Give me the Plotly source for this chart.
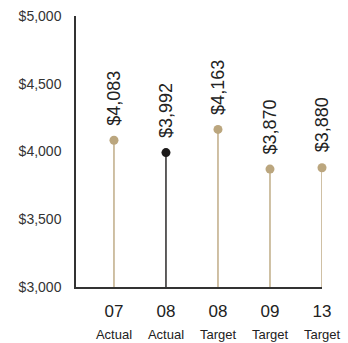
import plotly.graph_objects as go

# Fuel cost per unit, actuals vs targets
years = ["07", "08", "08", "09", "13"]
kinds = ["Actual", "Actual", "Target", "Target", "Target"]
values = [4083, 3992, 4163, 3870, 3880]
highlight = [False, True, False, False, False]

y_ticks = [3000, 3500, 4000, 4500, 5000]
y_labels = ["$3,000", "$3,500", "$4,000", "$4,500", "$5,000"]

TAN = "#bba67e"
DARK = "#1c1a1a"
BASE = 3000

positions = list(range(len(values)))
tick_text = [f"{y}<br><span style='font-size:13px'>{k}</span>" for y, k in zip(years, kinds)]

fig = go.Figure()

for flag, color in [(False, TAN), (True, DARK)]:
    xs, ys = [], []
    mx, my = [], []
    for p, v, h in zip(positions, values, highlight):
        if h == flag:
            xs += [p, p, None]
            ys += [BASE, v, None]
            mx.append(p)
            my.append(v)
    fig.add_trace(go.Scatter(x=xs, y=ys, mode="lines",
                             line=dict(color=color, width=1.4),
                             hoverinfo="skip", cliponaxis=False))
    fig.add_trace(go.Scatter(x=mx, y=my, mode="markers",
                             marker=dict(color=color, size=9),
                             cliponaxis=False))

for p, v in zip(positions, values):
    fig.add_annotation(x=p, y=v, text=f"${v:,}", showarrow=False,
                       textangle=-90, yanchor="bottom", xanchor="center",
                       yshift=13, font=dict(size=18, color="#222",
                                            family="Liberation Sans, Arial"))

fig.update_layout(
    width=348, height=343,
    margin=dict(l=76, r=26, t=16, b=56),
    paper_bgcolor="white", plot_bgcolor="white",
    showlegend=False,
    font=dict(family="Liberation Sans, Arial", color="#333"),
)
fig.update_xaxes(
    range=[-0.73, 4], tickmode="array", tickvals=positions, ticktext=tick_text,
    showgrid=False, zeroline=False, showline=True, linecolor="#333", linewidth=1.5,
    ticks="", ticklabelstandoff=8, automargin=False,
    tickfont=dict(size=17, family="Liberation Sans Narrow, Arial Narrow, Liberation Sans", color="#222"),
)
fig.update_yaxes(
    range=[3000, 5000], tickmode="array", tickvals=y_ticks, ticktext=y_labels,
    showgrid=False, zeroline=False, showline=True, linecolor="#333", linewidth=1.5,
    ticks="", ticklabelstandoff=10, automargin=False, tickfont=dict(size=14, color="#333"),
)

fig.write_html("out.html")
